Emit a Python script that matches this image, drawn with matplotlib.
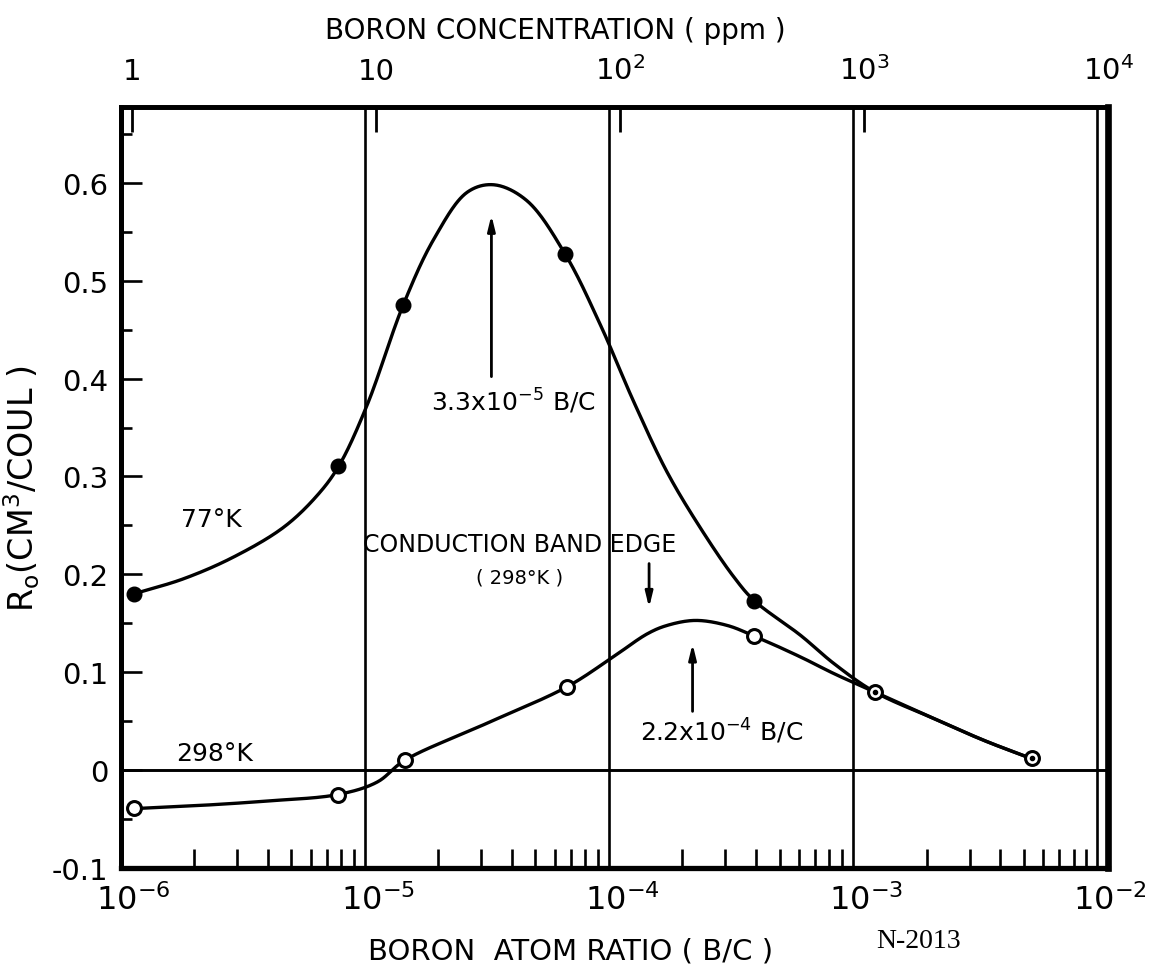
import numpy as np
import matplotlib
matplotlib.use("Agg")
import matplotlib.pyplot as plt
from matplotlib.transforms import ScaledTranslation
from matplotlib.ticker import FixedLocator, FixedFormatter, NullLocator, NullFormatter, LogLocator

plt.rcParams['font.family'] = ['DejaVu Sans']
plt.rcParams['mathtext.default'] = 'regular'

# ---------------- data ----------------
# measured points, boron atom ratio B/C  ->  R0 (cm^3/coul)
ratio_77 = [1.13e-6, 7.8e-6, 1.44e-5, 6.6e-5, 3.93e-4, 1.23e-3, 5.4e-3]
r0_77 = [0.180, 0.311, 0.475, 0.527, 0.173, 0.080, 0.012]
ratio_298 = [1.13e-6, 7.8e-6, 1.455e-5, 6.7e-5, 3.93e-4, 1.23e-3, 5.4e-3]
r0_298 = [-0.039, -0.025, 0.010, 0.085, 0.137, 0.080, 0.012]
shared_77 = [False, False, False, False, False, True, True]   # coincide with 298 K points

# hand-drawn smooth curves
curve77_ratio = [1.13e-6, 1.81e-6, 2.90e-6, 4.66e-6, 6.38e-6, 7.82e-6, 1.02e-5, 1.437e-5,
                 1.92e-5, 2.63e-5, 3.38e-5, 4.6e-5, 6.64e-5, 9.25e-5,
                 1.265e-4, 1.73e-4, 2.38e-4, 3.25e-4, 3.93e-4, 6.1e-4, 8.36e-4, 1.227e-3,
                 2.15e-3, 3.44e-3, 5.4e-3]
curve77_r0 = [0.180, 0.1955, 0.2177, 0.2483, 0.2806, 0.3106, 0.3725, 0.4754,
              0.5428, 0.5905, 0.598, 0.582, 0.5265, 0.4542,
              0.376, 0.3045, 0.2466, 0.1972, 0.1733, 0.1376, 0.1087, 0.0798,
              0.0525, 0.0303, 0.0116]
curve298_ratio = [1.13e-6, 2.12e-6, 3.98e-6, 7.82e-6, 1.124e-5, 1.455e-5, 3.07e-5, 6.71e-5,
                  1.016e-4, 1.437e-4, 1.73e-4, 2.26e-4, 3.05e-4, 3.93e-4, 6.1e-4, 8.36e-4,
                  1.227e-3, 2.15e-3, 3.44e-3, 5.4e-3]
curve298_r0 = [-0.0394, -0.0361, -0.0316, -0.0248, -0.0122, 0.0099, 0.0464, 0.0849,
               0.1138, 0.1393, 0.1478, 0.1529, 0.1478, 0.137, 0.1155, 0.0985,
               0.0798, 0.0525, 0.0303, 0.0116]

bottom_ticks = [1e-6, 1e-5, 1e-4, 1e-3, 1e-2]
bottom_labels = ['$10^{-6}$', '$10^{-5}$', '$10^{-4}$', '$10^{-3}$', '$10^{-2}$']
top_ticks_ppm = [1, 10, 100, 1000, 10000]
top_labels = ['1', '10', '$10^2$', '$10^3$', '$10^4$']
y_ticks = [-0.1, 0.0, 0.1, 0.2, 0.3, 0.4, 0.5, 0.6]
y_labels = ['-0.1', '0', '0.1', '0.2', '0.3', '0.4', '0.5', '0.6']
y_minor = [-0.05, 0.05, 0.15, 0.25, 0.35, 0.45, 0.55, 0.65]
ratio_per_ppm = 1.11e-6

peak77 = 3.3e-5
peak298 = 2.2e-4
band_edge = 1.46e-4


def smooth(xs, ys, n=30, alpha=0.5):
    """Centripetal Catmull-Rom curve through the traced points (log-x space)."""
    P = np.column_stack([np.log10(xs) * 2.44, np.asarray(ys) * 9.79])
    P = np.vstack([2 * P[0] - P[1], P, 2 * P[-1] - P[-2]])
    out = []
    for i in range(1, len(P) - 2):
        p0, p1, p2, p3 = P[i - 1], P[i], P[i + 1], P[i + 2]
        t0 = 0.0
        t1 = t0 + np.linalg.norm(p1 - p0) ** alpha
        t2 = t1 + np.linalg.norm(p2 - p1) ** alpha
        t3 = t2 + np.linalg.norm(p3 - p2) ** alpha
        t = np.linspace(t1, t2, n, endpoint=False)[:, None]
        A1 = (t1 - t) / (t1 - t0) * p0 + (t - t0) / (t1 - t0) * p1
        A2 = (t2 - t) / (t2 - t1) * p1 + (t - t1) / (t2 - t1) * p2
        A3 = (t3 - t) / (t3 - t2) * p2 + (t - t2) / (t3 - t2) * p3
        B1 = (t2 - t) / (t2 - t0) * A1 + (t - t0) / (t2 - t0) * A2
        B2 = (t3 - t) / (t3 - t1) * A2 + (t - t1) / (t3 - t1) * A3
        C = (t2 - t) / (t2 - t1) * B1 + (t - t1) / (t2 - t1) * B2
        out.append(C)
    out.append(P[-2][None, :])
    out = np.vstack(out)
    return 10 ** (out[:, 0] / 2.44), out[:, 1] / 9.79


fig = plt.figure(figsize=(11.53, 9.79), dpi=100)
ax = fig.add_axes([0.1047, 0.1124, 0.8565, 0.7768])
ax.set_xscale('log')
ax.set_xlim(1e-6, 1.11e-2)
ax.set_ylim(-0.1, 0.677)

# vertical lines at decades and zero line
for d in bottom_ticks[1:]:
    ax.axvline(d, color='k', lw=1.9, zorder=1)
ax.axhline(0, color='k', lw=2.1, zorder=1)

# curves
cx, cy = smooth(curve77_ratio, curve77_r0)
ax.plot(cx, cy, color='k', lw=2.4, zorder=3, solid_capstyle='round', solid_joinstyle='round')
cx, cy = smooth(curve298_ratio, curve298_r0)
ax.plot(cx, cy, color='k', lw=2.4, zorder=3, solid_capstyle='round', solid_joinstyle='round')

# markers
ax.plot(ratio_298, r0_298, 'o', ms=10, mfc='white', mec='k', mew=2.2, zorder=5, ls='none')
x_f = [x for x, s in zip(ratio_77, shared_77) if not s]
y_f = [y for y, s in zip(r0_77, shared_77) if not s]
x_s = [x for x, s in zip(ratio_77, shared_77) if s]
y_s = [y for y, s in zip(r0_77, shared_77) if s]
ax.plot(x_f, y_f, 'o', ms=10.5, color='k', zorder=6, ls='none')
ax.plot(x_s, y_s, 'o', ms=3.0, color='k', zorder=6, ls='none')

# bottom axis ticks
ax.xaxis.set_major_locator(FixedLocator(bottom_ticks))
ax.xaxis.set_major_formatter(FixedFormatter(bottom_labels))
ax.xaxis.set_minor_locator(LogLocator(base=10, subs=np.arange(2, 10)))
ax.xaxis.set_minor_formatter(NullFormatter())
ax.tick_params(axis='x', which='major', direction='in', length=0, labelsize=23, pad=11, top=False)
ax.tick_params(axis='x', which='minor', direction='in', length=14, width=1.9, top=False)
for lab in ax.get_xticklabels():
    lab.set_transform(lab.get_transform() + ScaledTranslation(0.13, 0, fig.dpi_scale_trans))

# y axis
ax.yaxis.set_major_locator(FixedLocator(y_ticks))
ax.yaxis.set_major_formatter(FixedFormatter(y_labels))
ax.yaxis.set_minor_locator(FixedLocator(y_minor))
ax.tick_params(axis='y', which='major', direction='in', length=15, width=1.9, labelsize=21, pad=9, right=False)
ax.tick_params(axis='y', which='minor', direction='in', length=8, width=1.9, right=False)

for side, lw in [('left', 3.6), ('bottom', 3.8), ('top', 3.4), ('right', 4.8)]:
    ax.spines[side].set_linewidth(lw)

# top axis: boron concentration in ppm
sec = ax.secondary_xaxis('top', functions=(lambda r: r / ratio_per_ppm, lambda p: p * ratio_per_ppm))
sec.xaxis.set_major_locator(FixedLocator(top_ticks_ppm))
sec.xaxis.set_major_formatter(FixedFormatter(top_labels))
sec.xaxis.set_minor_locator(NullLocator())
sec.tick_params(axis='x', which='major', direction='in', length=18, width=2.0, labelsize=21, pad=16)
sec.spines['top'].set_linewidth(3.4)
ax.text(0.44, 1.102, 'BORON CONCENTRATION ( ppm )', fontsize=20, ha='center', va='center',
        transform=ax.transAxes)

# axis labels
ax.set_ylabel('R$_o$(CM$^3$/COUL )', fontsize=24)
ax.yaxis.set_label_coords(-0.080, 0.50)
ax.set_xlabel('BORON  ATOM RATIO ( B/C )', fontsize=21)
ax.xaxis.set_label_coords(0.456, -0.108)
ax.xaxis.label.set_va('center')

# annotations
ax.text(2.35e-6, 0.257, '77°K', fontsize=18, ha='center', va='center')
ax.text(2.43e-6, 0.017, '298°K', fontsize=18, ha='center', va='center')
ax.text(4.05e-5, 0.378, '3.3x10$^{-5}$ B/C', fontsize=18, ha='center', va='center')
ax.text(2.89e-4, 0.040, '2.2x10$^{-4}$ B/C', fontsize=18, ha='center', va='center')
ax.text(4.3e-5, 0.231, 'CONDUCTION BAND EDGE', fontsize=17, ha='center', va='center')
ax.text(4.3e-5, 0.197, '( 298°K )', fontsize=14, ha='center', va='center')

arrow_kw = dict(arrowstyle='-|>,head_length=0.9,head_width=0.22', color='k', lw=2.0,
                shrinkA=0, shrinkB=0)
ax.annotate('', xy=(peak77, 0.567), xytext=(peak77, 0.402), arrowprops=arrow_kw)
ax.annotate('', xy=(peak298, 0.129), xytext=(peak298, 0.060), arrowprops=arrow_kw)
ax.annotate('', xy=(band_edge, 0.166), xytext=(band_edge, 0.211), arrowprops=arrow_kw)

fig.text(0.797, 0.038, 'N-2013', fontsize=20, family='Liberation Serif', ha='center', va='center')

fig.savefig('out.png', dpi=100)
